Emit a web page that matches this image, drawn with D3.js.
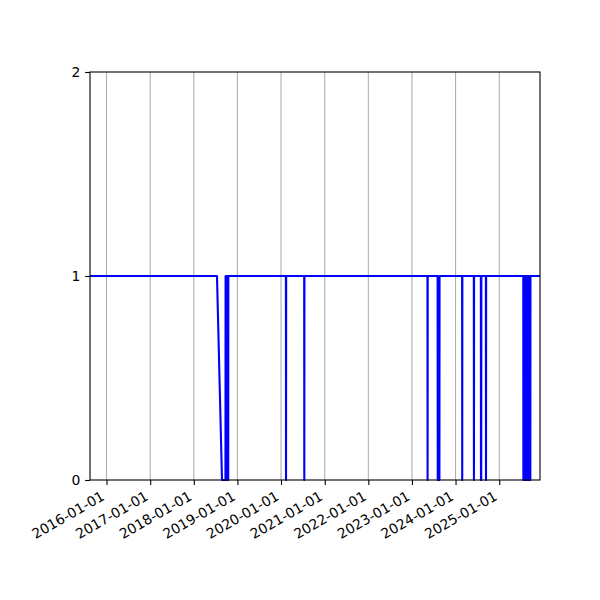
<!DOCTYPE html>
<html>
<head>
<meta charset="utf-8">
<script src="https://cdn.jsdelivr.net/npm/d3@7"></script>
<style>
  body { margin: 0; background: #fff; }
  svg { display: block; }
</style>
</head>
<body>
<div id="chart"></div>
<script>
// x-axis range and tick labels
var xStart = "2015-08-16", xEnd = "2025-12-08";
var tickDates = ["2016-01-01", "2017-01-01", "2018-01-01", "2019-01-01", "2020-01-01",
                 "2021-01-01", "2022-01-01", "2023-01-01", "2024-01-01", "2025-01-01"];
var yTicks = [0, 1, 2];

// series: change points of the status line
var dates = [
  "2015-08-16", "2018-07-14", "2018-08-25", "2018-09-23", "2018-09-24", "2018-10-01",
  "2018-10-02", "2018-10-10", "2018-10-11", "2018-10-15", "2018-10-16", "2018-10-17",
  "2020-02-11", "2020-02-12", "2020-02-13",
  "2020-07-13", "2020-07-14", "2020-07-15",
  "2023-05-11", "2023-05-12", "2023-05-13",
  "2023-08-04", "2023-08-05", "2023-08-19", "2023-08-20",
  "2024-02-25", "2024-02-26", "2024-02-27",
  "2024-06-02", "2024-06-03", "2024-06-04",
  "2024-07-31", "2024-08-01", "2024-08-03", "2024-08-04",
  "2024-09-11", "2024-09-12", "2024-09-13",
  "2025-07-21", "2025-07-22", "2025-07-28", "2025-07-29", "2025-08-01", "2025-08-02",
  "2025-08-08", "2025-08-09", "2025-08-13", "2025-08-14", "2025-08-20", "2025-08-21",
  "2025-08-25", "2025-08-26", "2025-09-01", "2025-09-02", "2025-09-06", "2025-09-07",
  "2025-09-18", "2025-09-19",
  "2025-12-08"
];
var values = [
  1, 1, 0, 0, 1, 1,
  0, 0, 1, 1, 0, 1,
  1, 0, 1,
  1, 0, 1,
  1, 0, 1,
  1, 0, 0, 1,
  1, 0, 1,
  1, 0, 1,
  1, 0, 0, 1,
  1, 0, 1,
  1, 0, 0, 1, 1, 0,
  0, 1, 1, 0, 0, 1,
  1, 0, 0, 1, 1, 0,
  0, 1,
  1
];

var parse = d3.timeParse("%Y-%m-%d");
var data = dates.map(function(d, i) { return {date: parse(d), value: values[i]}; });

var margin = {top: 72, right: 60, bottom: 120, left: 90},
    width = 600 - margin.left - margin.right,
    height = 600 - margin.top - margin.bottom;

var svg = d3.select("#chart")
  .append("svg")
    .attr("width", 600)
    .attr("height", 600)
  .append("g")
    .attr("transform", "translate(" + margin.left + "," + margin.top + ")");

var x = d3.scaleTime().domain([parse(xStart), parse(xEnd)]).range([0, width]);
var y = d3.scaleLinear().domain([0, 2]).range([height, 0]);

// vertical grid lines
svg.selectAll(".grid")
  .data(tickDates)
  .enter()
  .append("line")
    .attr("x1", function(d) { return x(parse(d)); })
    .attr("x2", function(d) { return x(parse(d)); })
    .attr("y1", 0)
    .attr("y2", height)
    .attr("stroke", "#b0b0b0")
    .attr("stroke-width", 1.1);

// the line
svg.append("path")
  .datum(data)
  .attr("fill", "none")
  .attr("stroke", "#0000ff")
  .attr("stroke-width", 2.1)
  .attr("stroke-linejoin", "round")
  .attr("d", d3.line()
    .x(function(d) { return x(d.date); })
    .y(function(d) { return y(d.value); })
  );

// X axis
var xAxis = svg.append("g")
  .attr("transform", "translate(0," + height + ")")
  .call(d3.axisBottom(x)
    .tickValues(tickDates.map(parse))
    .tickFormat(d3.timeFormat("%Y-%m-%d"))
    .tickSize(4.9)
    .tickSizeOuter(0))
  .attr("font-family", "DejaVu Sans")
  .attr("font-size", 13.9);
xAxis.select(".domain").remove();
xAxis.selectAll(".tick line").attr("stroke", "#000").attr("stroke-width", 1.1);
xAxis.selectAll(".tick text")
  .attr("fill", "#000")
  .attr("text-anchor", "end")
  .attr("x", 0)
  .attr("y", 0)
  .attr("dy", 0)
  .attr("transform", "translate(-1.5,19) rotate(-30)");

// Y axis
var yAxis = svg.append("g")
  .call(d3.axisLeft(y)
    .tickValues(yTicks)
    .tickFormat(d3.format("d"))
    .tickSize(4.9)
    .tickSizeOuter(0))
  .attr("font-family", "DejaVu Sans")
  .attr("font-size", 13.9);
yAxis.select(".domain").remove();
yAxis.selectAll(".tick line").attr("stroke", "#000").attr("stroke-width", 1.1);
yAxis.selectAll(".tick text")
  .attr("fill", "#000")
  .attr("x", -9.7)
  .attr("dy", "0.35em");

// frame
svg.append("rect")
  .attr("width", width)
  .attr("height", height)
  .attr("fill", "none")
  .attr("stroke", "#000")
  .attr("stroke-width", 1.1);
</script>
</body>
</html>
